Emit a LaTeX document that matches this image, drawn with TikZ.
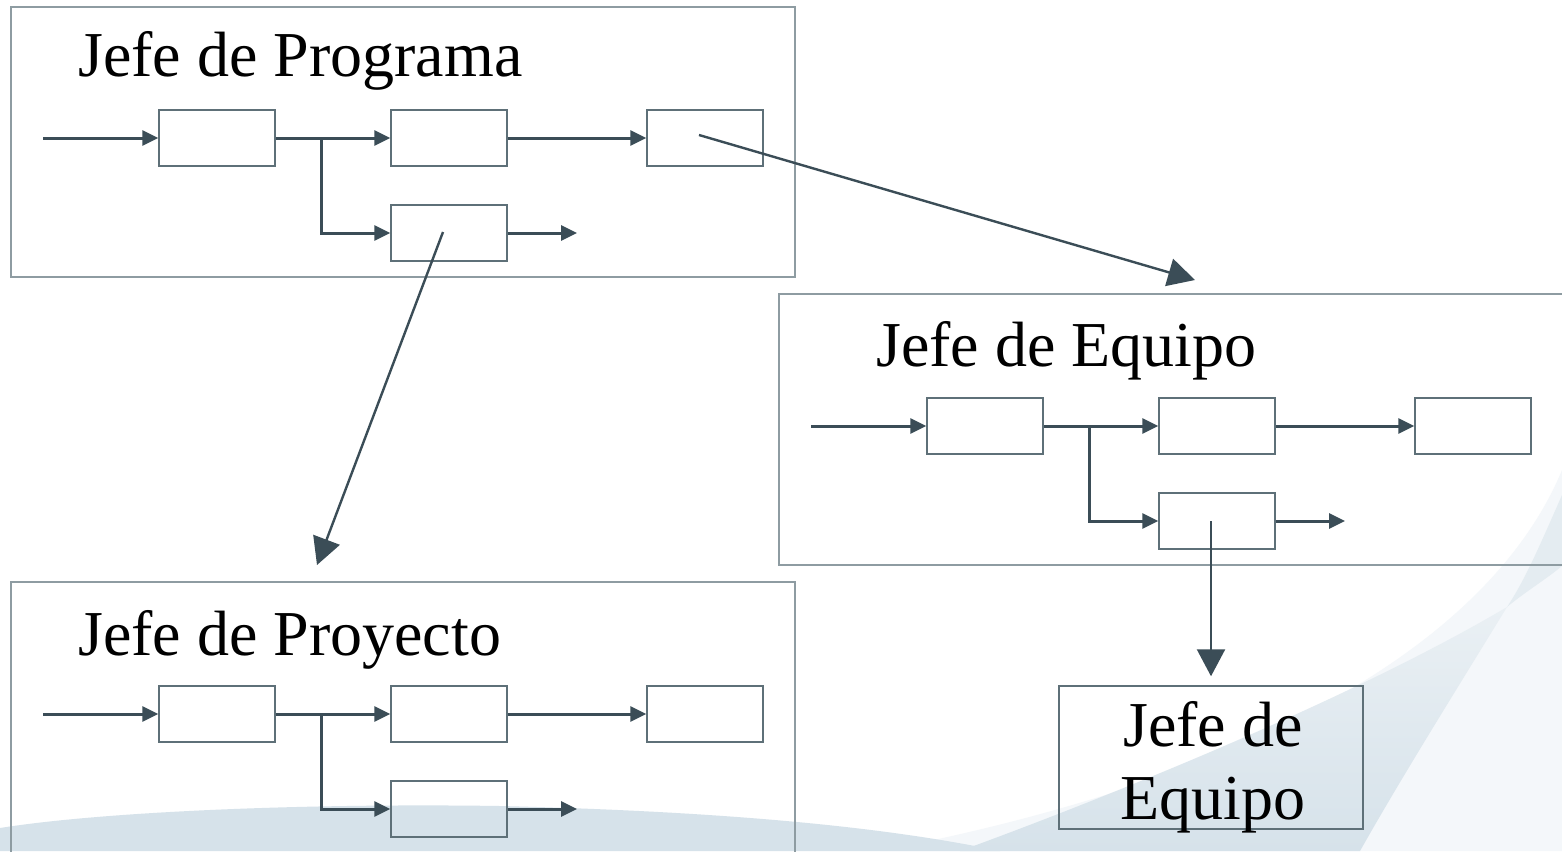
\documentclass[tikz,border=0pt]{standalone}
\usepackage{fontspec}
\setmainfont{Liberation Serif}
\usetikzlibrary{arrows.meta}
\definecolor{ink}{HTML}{3B4D57}
\definecolor{framec}{HTML}{8E9CA2}
\definecolor{boxc}{HTML}{5E7078}
\definecolor{swA}{HTML}{D6E2EA}
\definecolor{swB}{HTML}{F4F7FA}
\definecolor{swC}{HTML}{E4ECF1}
\definecolor{swD}{HTML}{EAF0F4}

% one small process chart: three cells in a row, one branch cell below
\newcommand\processchart{%
  \node[cell] (A) at (217,138) {};
  \node[cell] (B) at (449,138) {};
  \node[cell] (C) at (705,138) {};
  \node[cell] (D) at (449,233) {};
  \coordinate (in) at (43,138);
  \coordinate (split) at (321,138);
  \coordinate (out) at (577,233);
  \draw[flow] (in) -- (A);
  \draw[flow] (A) -- (B);
  \draw[flow] (B) -- (C);
  \draw[flow] (split) |- (D);
  \draw[flow] (D) -- (out);
}

\begin{document}
\begin{tikzpicture}[x=1pt,y=-1pt,
  frame/.style={draw=framec, line width=2pt, inner sep=0},
  cell/.style={draw=boxc, line width=1.5pt, minimum width=116pt, minimum height=56pt, inner sep=0},
  flow/.style={draw=ink, line width=3pt, -{Triangle[length=16pt,width=15pt]}},
  jump/.style={draw=ink, line width=2.4pt, -{Triangle[length=27pt,width=28pt]}},
  title/.style={font=\fontsize{64}{73}\selectfont, inner sep=0, anchor=base west}]

\useasboundingbox (0,0) rectangle (1562,851);
\clip (0,0) rectangle (1562,851);

% background swooshes
\fill[white] (0,0) rectangle (1562,851);
\fill[swB] (1562,470) .. controls (1500,620) and (1300,770) .. (880,851) -- (1562,851) -- cycle;
\fill[swA]
  (0,851) -- (0,828) .. controls (100,812) and (300,803) .. (500,806)
  .. controls (750,812) and (900,830) .. (1000,851) -- cycle;
\fill[swC] (1562,495) .. controls (1540,545) and (1525,580) .. (1507,607)
  .. controls (1525,592) and (1545,580) .. (1562,566) -- cycle;
\shade[top color=swD, bottom color=swA]
  (1507,607) .. controls (1450,700) and (1400,780) .. (1360,851)
  -- (960,851) .. controls (1100,800) and (1350,700) .. (1507,607) -- cycle;

% frames
\node[frame, minimum width=784pt, minimum height=270pt] (prog) at (403,142) {};
\node[frame, minimum width=791pt, minimum height=271pt] (equipo) at (1174.5,429.5) {};
\node[frame, minimum width=784pt, minimum height=288pt] (proy) at (403,726) {};

\node[title] (tprog) at (78,77) {Jefe de Programa};
\node[title] (tequipo) at (876,366) {Jefe de Equipo};
\node[title] (tproy) at (78,655) {Jefe de Proyecto};

\begin{scope}[name prefix=p-]
  \processchart
\end{scope}
\begin{scope}[shift={(768,288)}, name prefix=e-]
  \processchart
\end{scope}
\begin{scope}[shift={(0,576)}, name prefix=r-]
  \processchart
\end{scope}

% single team box
\node[frame, draw=boxc, line width=1.5pt, minimum width=304pt, minimum height=143pt] (je) at (1211,757.5) {};
\node[font=\fontsize{64}{73}\selectfont, align=center, anchor=north, inner sep=0] (jet) at (1213,701) {Jefe de\\Equipo};

% delegation arrows
\coordinate (cstart) at (699,135);
\coordinate (dstart) at (443,232);
\coordinate (toequipo) at (1195,280);
\coordinate (toproy) at (317,565);
\draw[jump] (cstart) -- (toequipo);
\draw[jump] (dstart) -- (toproy);
\draw[jump, shorten >=9pt] (je.north |- e-D.center) -- (je.north);
\end{tikzpicture}
\end{document}
